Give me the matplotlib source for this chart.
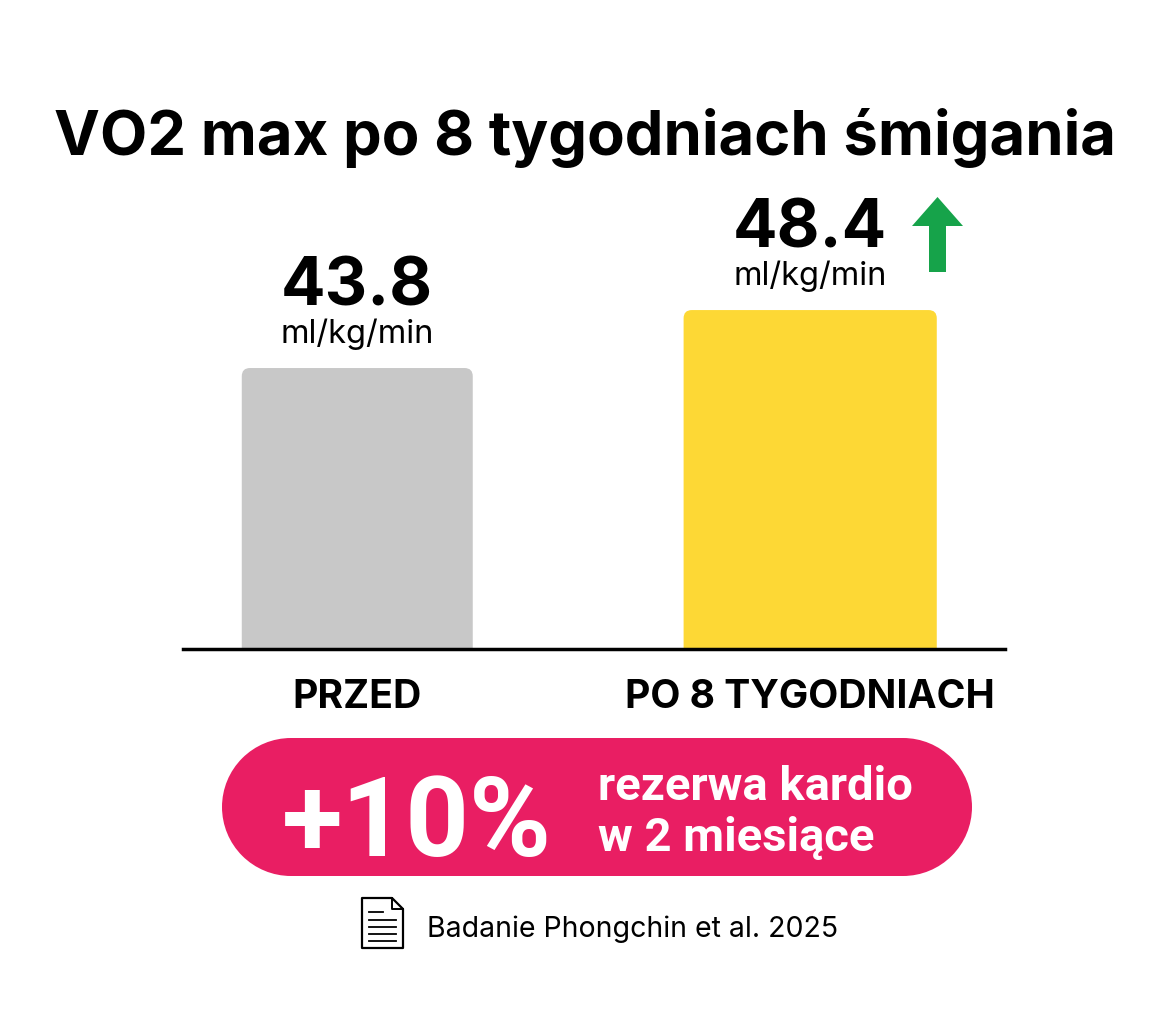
import matplotlib
matplotlib.use("Agg")
import matplotlib.pyplot as plt
from matplotlib.patches import FancyBboxPatch, Polygon, Rectangle, Circle

plt.rcParams['font.family'] = ['Inter', 'DejaVu Sans']

# data
categories = ["PRZED", "PO 8 TYGODNIACH"]
values = [43.8, 48.4]
unit = "ml/kg/min"
title = "VO2 max po 8 tygodniach śmigania"
change_label = "+10%"
change_lines = ["rezerwa kardio", "w 2 miesiące"]
source = "Badanie Phongchin et al. 2025"

bar_colors = ["#c8c8c8", "#fdd835"]
W, H = 1165, 1024

fig = plt.figure(figsize=(W / 100, H / 100), dpi=100)
fig.patch.set_facecolor("white")

# overlay axes in pixel coordinates (origin top-left) for decorations
ov = fig.add_axes([0, 0, 1, 1])
ov.set_xlim(0, W)
ov.set_ylim(H, 0)
ov.axis("off")

# chart axes: baseline at y=649px, spans x 183..1005
ax = fig.add_axes([183 / W, 1 - 649 / H, (1005 - 183) / W, (649 - 100) / H])
ax.set_xlim(0, 1)
y0 = 21.5
ppu = 12.6  # px per data unit
ax.set_ylim(y0, y0 + 549 / ppu)
ax.axis("off")

centers = [0.212, 0.763]
widths = [0.281, 0.308]
aspect = (1 / ppu) / (1 / 822)
for i, (c, w, v, col) in enumerate(zip(centers, widths, values, bar_colors)):
    p = FancyBboxPatch((c - w / 2, y0 - 2), w, v - y0 + 2,
                       boxstyle="round,pad=0,rounding_size=0.01",
                       mutation_aspect=aspect, fc=col, ec="none", clip_on=True)
    ax.add_patch(p)
    ax.text(c, v + 5.0, f"{v}", ha="center", va="baseline", fontsize=47.5,
            fontweight="bold", color="black")
    ax.text(c, v + 2.0, unit, ha="center", va="baseline", fontsize=23.5,
            color="black")
    ax.text(c, y0 - 4.7, categories[i], ha="center", va="baseline",
            fontsize=28.2, fontweight="bold", color="black", clip_on=False)

ax.axhline(y0, color="black", lw=2.5, clip_on=False)

# title
ov.text(585, 155, title, ha="center", va="baseline", fontsize=44.3,
        fontweight="bold", color="black")

# green arrow
arrow = [(912, 226), (937.5, 197), (963, 226), (946, 226), (946, 272),
         (929, 272), (929, 226)]
ov.add_patch(Polygon(arrow, closed=True, fc="#16a34a", ec="none"))

# pink pill (rectangle with semicircle ends)
pink = "#e91e63"
r = 69
ov.add_patch(Rectangle((222 + r, 738), 972 - 222 - 2 * r, 2 * r, fc=pink, ec="none"))
ov.add_patch(Circle((222 + r, 738 + r), r, fc=pink, ec="none"))
ov.add_patch(Circle((972 - r, 738 + r), r, fc=pink, ec="none"))
ov.text(417, 856, change_label, ha="center", va="baseline",
        fontsize=80, fontweight="bold", color="white",
        family=["Roboto", "DejaVu Sans"])
for yy, line in zip([800, 851], change_lines):
    ov.text(598, yy, line, ha="left", va="baseline", fontsize=34,
            fontweight="bold", color="white",
            family=["Roboto", "DejaVu Sans"])

# document icon
doc = [(362, 898), (392, 898), (403, 909), (403, 948), (362, 948)]
ov.add_patch(Polygon(doc, closed=True, fc="white", ec="black", lw=1.6,
                     joinstyle="round"))
ov.plot([392, 392, 403], [898, 909, 909], color="black", lw=1.4)
for yy, x2 in [(912, 383), (920, 396), (927, 396), (934, 396), (941, 396)]:
    ov.plot([369, x2], [yy, yy], color="black", lw=1.3)
ov.text(427, 937, source, ha="left", va="baseline", fontsize=20.5,
        color="black")

fig.savefig("out.png", dpi=100, facecolor="white")
